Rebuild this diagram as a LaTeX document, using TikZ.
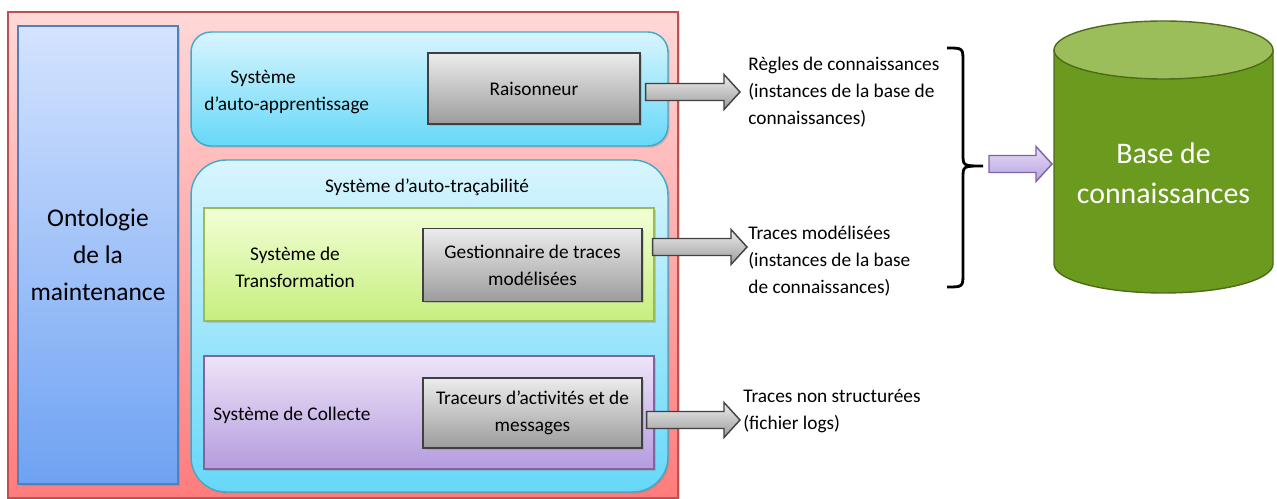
\documentclass[tikz,border=0pt]{standalone}
\usepackage{fontspec}
\setmainfont{Carlito}
\usetikzlibrary{calc,shadows}

\definecolor{redtop}{HTML}{FFD8D8}
\definecolor{redbot}{HTML}{FF7C7C}
\definecolor{redline}{HTML}{C0504D}
\definecolor{bluetop}{HTML}{D4E3FF}
\definecolor{bluebot}{HTML}{6EA2F2}
\definecolor{blueline}{HTML}{4F81BD}
\definecolor{cyantop}{HTML}{D8F5FE}
\definecolor{cyanbot}{HTML}{66D8F8}
\definecolor{cyanline}{HTML}{3FA9C9}
\definecolor{greentop}{HTML}{F2FFD6}
\definecolor{greenbot}{HTML}{C6EE7E}
\definecolor{greenline}{HTML}{9BBB59}
\definecolor{violettop}{HTML}{EEE4F8}
\definecolor{violetbot}{HTML}{B49CDE}
\definecolor{violetline}{HTML}{8064A2}
\definecolor{graytop}{HTML}{ECECEC}
\definecolor{graybot}{HTML}{9C9C9C}
\definecolor{grayline}{HTML}{404040}
\definecolor{purpletop}{HTML}{E6DCF6}
\definecolor{purplebot}{HTML}{B7A3E0}
\definecolor{purpleline}{HTML}{7C62A8}
\definecolor{cylside}{HTML}{6A9A1E}
\definecolor{cyltop}{HTML}{9CBE5A}
\definecolor{cylline}{HTML}{4E6B1A}

\begin{document}
\begin{tikzpicture}
	  [x=0.02cm,y=-0.02cm,
	   every node/.style={font=\fontsize{11}{15.3}\selectfont,inner sep=0pt},
	   shadebox/.style={shade,top color=#1top,bottom color=#1bot,draw=#1line,line width=0.8pt,
	     drop shadow={shadow xshift=1pt,shadow yshift=-1pt,opacity=0.3}},
	   graybox/.style={shadebox=gray,align=center},
	   fleche/.style={shade,top color=#1top,bottom color=#1bot,draw=#1line,line width=0.8pt}]
	\useasboundingbox (0,0) rectangle (1277,499);

	% containers
	\node[shadebox=red,minimum width=13.4cm,minimum height=9.72cm] (cadre) at (343,255) {};
	\node[shadebox=blue,minimum width=3.2cm,minimum height=9.16cm,align=center,
	  font=\fontsize{14.5}{21}\selectfont] (onto) at (98,255) {Ontologie\\de la\\maintenance};
	\node[shadebox=cyan,rounded corners=0.4cm,minimum width=9.54cm,minimum height=2.28cm] (appr) at (429.5,89) {};
	\node[shadebox=cyan,rounded corners=0.7cm,minimum width=9.54cm,minimum height=6.64cm] (trac) at (429.5,326) {};
	\node[shadebox=green,minimum width=9cm,minimum height=2.26cm] (transfo) at (429,264.5) {};
	\node[shadebox=violet,minimum width=9cm,minimum height=2.26cm] (coll) at (429,412.5) {};

	% modules
	\node[graybox,minimum width=4.24cm,minimum height=1.42cm] (rais) at (534,88.5) {Raisonneur};
	\node[graybox,minimum width=4.38cm,minimum height=1.46cm] (gest) at (532.5,265) {Gestionnaire de traces\\modélisées};
	\node[graybox,minimum width=4.38cm,minimum height=1.4cm] (traceur) at (532.5,413) {Traceurs d’activités et de\\messages};

	\node[anchor=west,align=left] (lappr) at (204,92) {\hspace*{0.52cm}Système\\d’auto-apprentissage};
	\node (ltrac) at (427,187) {Système d’auto-traçabilité};
	\node[align=center] (ltransfo) at (295,267) {Système de\\Transformation};
	\node (lcoll) at (292,415) {Système de Collecte};

	% sorties
	\node[anchor=west,align=left] (regles) at (748,92) {Règles de connaissances\\(instances de la base de\\connaissances)};
	\node[anchor=west,align=left] (tmod) at (748,261) {Traces modélisées\\(instances de la base\\de connaissances)};
	\node[anchor=west,align=left] (tnon) at (743,411) {Traces non structurées\\(fichier logs)};

	\draw[line width=1.6pt] (947,48) .. controls (963,48) .. (963,62) -- (963,154)
	  .. controls (963,166) .. (983,166) .. controls (963,166) .. (963,178) -- (963,273)
	  .. controls (963,287) .. (947,287);
	\coordinate (accolade) at (983,166);

	% base de connaissances
	\draw[fill=cylside,draw=cylline,line width=0.8pt] (1054,50) -- (1054,264)
	  arc[start angle=180,end angle=0,x radius=109.5,y radius=29] -- (1273,50) -- cycle;
	\draw[fill=cyltop,draw=cylline,line width=0.8pt] (1163.5,50) ellipse[x radius=109.5,y radius=29];
	\node[align=center,text=white,font=\fontsize{17}{23}\selectfont] (base) at (1163.5,173) {Base de\\connaissances};

	\coordinate (s1) at ($(rais.east)+(5,3.5)$);   \coordinate (e1) at (740,92);
	\coordinate (s2) at ($(gest.east)+(10,-18)$);  \coordinate (e2) at (747,247);
	\coordinate (s3) at ($(traceur.east)+(4,7)$);  \coordinate (e3) at (740,420);
	\coordinate (s4) at ($(accolade)+(6,-2)$);     \coordinate (e4) at (1052,164);

	\foreach \from/\to/\col in {s1/e1/gray,s2/e2/gray,s3/e3/gray,s4/e4/purple}
	  \draw[fleche=\col] ($(\from)+(0,-8.5)$) -- ($(\to)+(-16,-8.5)$) -- ($(\to)+(-16,-17.5)$) -- (\to)
	    -- ($(\to)+(-16,17.5)$) -- ($(\to)+(-16,8.5)$) -- ($(\from)+(0,8.5)$) -- cycle;
	\end{tikzpicture}
\end{document}
